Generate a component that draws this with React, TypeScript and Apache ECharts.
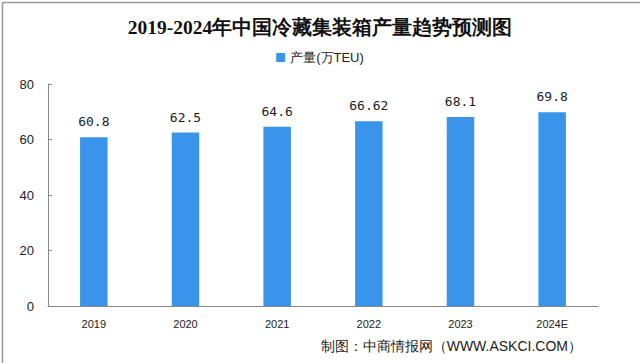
import React, { useEffect, useRef } from "react";
import * as echarts from "echarts";

const categories = ["2019", "2020", "2021", "2022", "2023", "2024E"];
const values = [60.8, 62.5, 64.6, 66.62, 68.1, 69.8];
const seriesName = "产量(万TEU)";
const title = "2019-2024年中国冷藏集装箱产量趋势预测图";
const source = "制图：中商情报网（WWW.ASKCI.COM）";

export default function App() {
  const ref = useRef<HTMLDivElement>(null);
  useEffect(() => {
    const chart = echarts.init(ref.current!, null, { renderer: "svg" });
    chart.setOption({
      animation: false,
      backgroundColor: "#ffffff",
      title: {
        text: title,
        left: "center",
        top: 12,
        textStyle: { fontFamily: "serif", fontWeight: "bold", fontSize: 19.5, color: "#111" },
      },
      legend: {
        top: 46,
        left: "center",
        itemWidth: 9,
        itemHeight: 9,
        icon: "rect",
        itemGap: 4,
        textStyle: { fontSize: 13, color: "#222", fontFamily: "sans-serif" },
        data: [seriesName],
      },
      grid: { left: 48, right: 42, top: 84, bottom: 57 },
      xAxis: {
        type: "category",
        data: categories,
        axisLine: { lineStyle: { color: "#888" } },
        axisTick: { inside: true, length: 5, lineStyle: { color: "#888" } },
        axisLabel: { fontSize: 11, color: "#222", margin: 12 },
      },
      yAxis: {
        type: "value",
        min: 0,
        max: 80,
        interval: 20,
        splitLine: { show: false },
        axisLine: { show: true, lineStyle: { color: "#888" } },
        axisTick: { show: true, inside: true, length: 4, lineStyle: { color: "#888" } },
        axisLabel: { fontSize: 13, color: "#222", margin: 14 },
      },
      series: [
        {
          name: seriesName,
          type: "bar",
          data: values,
          barWidth: "30%",
          itemStyle: { color: "#3a95ea" },
          label: {
            show: true,
            position: "top",
            distance: 9,
            fontSize: 13,
            color: "#222",
            fontFamily: "monospace",
          },
        },
      ],
      graphic: [
        {
          type: "text",
          right: 58,
          top: 339,
          style: { text: source, fontSize: 14, fill: "#222", fontFamily: "sans-serif" },
        },
        {
          type: "rect",
          left: 0,
          top: 0,
          shape: { x: 0.75, y: 0.75, width: 638.5, height: 361.5 },
          style: { fill: "none", stroke: "#999", lineWidth: 1.5 },
        },
      ],
    });
    return () => chart.dispose();
  }, []);
  return (
    <div
      ref={ref}
      style={{ position: "fixed", left: 0, top: 0, width: 640, height: 363 }}
    />
  );
}
